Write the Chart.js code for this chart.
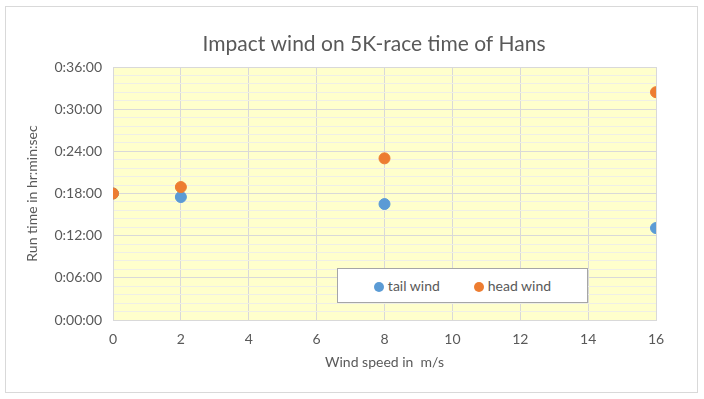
<!DOCTYPE html>
<html>
<head>
<meta charset="utf-8">
<script src="https://cdn.jsdelivr.net/npm/chart.js@4.4.1/dist/chart.umd.min.js"></script>
<style>
  body { margin: 0; background: #fff; }
  #wrap { position: relative; width: 704px; height: 399px; }
  #legend {
    position: absolute; left: 337px; top: 268px; width: 249px; height: 33px;
    background: #fff; border: 1px solid #a6a6a6;
    display: flex; align-items: center; justify-content: center; gap: 34px;
    font: 14px Lato, sans-serif; color: #595959;
  }
  #legend span.dot { display: inline-block; width: 10px; height: 10px; border-radius: 50%; margin-right: 4px; vertical-align: -1px; }
</style>
</head>
<body>
<div id="wrap">
  <canvas id="myChart" width="704" height="399"></canvas>
  <div id="legend"></div>
</div>
<script>
// Wind speed (m/s) and run time (seconds)
const windSpeed = [0, 2, 8, 16];
const tailWind = [1080, 1050, 990, 785];
const headWind = [1080, 1135, 1380, 1945];
const seriesNames = ["tail wind", "head wind"];
const seriesColors = ["#5B9BD5", "#ED7D31"];
const chartTitle = "Impact wind on 5K-race time of Hans";

function toHms(sec) {
  const h = Math.floor(sec / 3600);
  const m = Math.floor((sec % 3600) / 60);
  const s = Math.round(sec % 60);
  return h + ":" + String(m).padStart(2, "0") + ":" + String(s).padStart(2, "0");
}

function points(ys) {
  return windSpeed.map((x, i) => ({ x: x, y: ys[i] }));
}

// yellow plot area, outer frame and the title (Excel centres it a bit off the canvas middle)
const background = {
  id: "background",
  beforeDraw(chart) {
    const ctx = chart.ctx;
    const a = chart.chartArea;
    ctx.save();
    ctx.fillStyle = "#fff";
    ctx.fillRect(0, 0, chart.width, chart.height);
    ctx.strokeStyle = "#d9d9d9";
    ctx.lineWidth = 1;
    ctx.strokeRect(5.5, 6.5, 692, 386);
    ctx.fillStyle = "#FFFFCC";
    ctx.fillRect(a.left, a.top, a.right - a.left, a.bottom - a.top);
    ctx.fillStyle = "#595959";
    ctx.font = "21px Lato";
    ctx.textAlign = "center";
    ctx.textBaseline = "middle";
    ctx.fillText(chartTitle, 374, 44);
    ctx.restore();
  }
};

const data = {
  datasets: [
    { label: seriesNames[0], data: points(tailWind), backgroundColor: seriesColors[0], borderColor: seriesColors[0], pointRadius: 5.5, order: 2 },
    { label: seriesNames[1], data: points(headWind), backgroundColor: seriesColors[1], borderColor: seriesColors[1], pointRadius: 5.5, order: 1 }
  ]
};

const config = {
  type: "scatter",
  data: data,
  options: {
    responsive: false,
    animation: false,
    layout: { padding: { left: 20, right: 48, top: 67, bottom: 24 } },
    plugins: {
      legend: { display: false },
      tooltip: { enabled: false },
      title: { display: false }
    },
    scales: {
      x: {
        type: "linear",
        min: 0, max: 16,
        ticks: { stepSize: 2, color: "#595959", font: { family: "Lato", size: 14 }, padding: 11 },
        grid: { color: "#d9d9d9", drawTicks: false },
        border: { color: "#d9d9d9" },
        title: { display: true, text: "Wind speed in  m/s", color: "#595959", font: { family: "Lato", size: 14 }, padding: { top: 4, bottom: 4 } },
        afterFit: s => { s.height = 55; }
      },
      y: {
        min: 0, max: 2160,
        ticks: {
          stepSize: 72, autoSkip: false, color: "#595959", font: { family: "Lato", size: 14 }, padding: 11,
          callback: v => (v % 360 === 0 ? toHms(v) : "")
        },
        grid: {
          drawTicks: false,
          color: c => (c.tick && c.tick.value % 360 === 0 ? "#d9d9d9" : "#efefe6")
        },
        border: { color: "#d9d9d9" },
        title: { display: true, text: "Run time in hr:min:sec", color: "#595959", font: { family: "Lato", size: 14 }, padding: { top: 4, bottom: 4 } },
        afterFit: s => { s.width = 93; }
      }
    }
  },
  plugins: [background]
};

const myChart = new Chart(document.getElementById("myChart"), config);

// legend built from the datasets
const legend = document.getElementById("legend");
myChart.data.datasets.forEach(ds => {
  const item = document.createElement("div");
  item.innerHTML = '<span class="dot" style="background:' + ds.backgroundColor + '"></span>' + ds.label;
  legend.appendChild(item);
});
</script>
</body>
</html>
